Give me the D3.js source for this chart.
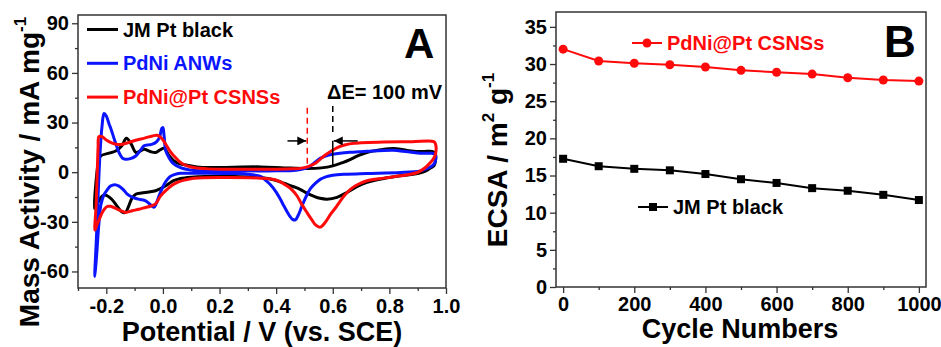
<!DOCTYPE html>
<html>
<head>
<meta charset="utf-8">
<script src="https://cdn.jsdelivr.net/npm/d3@7"></script>
<style>
  body { margin: 0; background: #fff; }
  svg { display: block; font-family: "Liberation Sans", Arial, sans-serif; font-weight: bold; }
</style>
</head>
<body>
<div id="chart"></div>
<script>
// ---- data: panel A, cyclic voltammograms [potential (V), mass activity (mA/mg)]
const jmPtCV = [
  [-0.242, -22], [-0.236, -5], [-0.228, 6], [-0.22, 9.8], [-0.19, 11.5], [-0.167, 12.8], [-0.145, 16],
  [-0.129, 20.5], [-0.112, 17], [-0.096, 12], [-0.08, 12.8], [-0.067, 13.9], [-0.045, 12.5], [-0.026, 11.9],
  [-0.01, 13.5], [0.004, 14.5], [0.02, 10.5], [0.039, 6.8], [0.06, 5], [0.086, 4.2], [0.12, 3.2], [0.168, 2.8],
  [0.25, 3.0], [0.345, 3.2], [0.43, 2.6], [0.51, 2.2], [0.56, 2.6], [0.6, 3.8], [0.635, 5.8], [0.663, 7.8],
  [0.69, 10], [0.72, 11.9], [0.77, 13.5], [0.815, 14.3], [0.85, 13.5], [0.886, 12.6], [0.92, 12.5], [0.951, 12.6],
  [0.962, 11.5], [0.963, 7], [0.958, 4],
  [0.945, 2.5], [0.925, 0.5], [0.91, -0.4], [0.87, -1.6], [0.839, -2.2], [0.78, -3.8], [0.721, -6.2],
  [0.685, -8.8], [0.651, -12.2], [0.615, -15.2], [0.58, -16.3], [0.555, -15.8], [0.534, -14.6], [0.51, -12.8],
  [0.486, -10.5], [0.462, -8.8], [0.43, -6.8], [0.404, -5.2], [0.37, -3.8], [0.345, -3.2], [0.25, -2.6],
  [0.15, -2.6], [0.1, -3], [0.062, -3.8], [0.04, -5], [0.027, -6.2], [0.01, -8.2], [-0.01, -10], [-0.026, -11.2],
  [-0.05, -12], [-0.075, -12.6], [-0.096, -13.3], [-0.11, -16], [-0.122, -21], [-0.132, -24.3], [-0.145, -24],
  [-0.16, -21], [-0.18, -16.5], [-0.202, -13.9], [-0.215, -14.5], [-0.226, -17.3], [-0.236, -20]
];
const pdniAnwCV = [
  [-0.241, -63], [-0.235, -40], [-0.228, -10], [-0.222, 12], [-0.215, 28], [-0.208, 35.5], [-0.2, 34],
  [-0.19, 29], [-0.185, 26.9], [-0.17, 19], [-0.155, 11.9], [-0.143, 8.5], [-0.132, 7.8], [-0.115, 8.2],
  [-0.096, 9.8], [-0.08, 13], [-0.067, 15.9], [-0.05, 16.5], [-0.037, 16.9], [-0.022, 18.5], [-0.012, 21],
  [-0.004, 26.5], [0.0, 27], [0.004, 22], [0.01, 13], [0.021, 8.8], [0.035, 5.5], [0.062, 2.8], [0.109, 1.1],
  [0.2, 0.8], [0.3, 0.8], [0.4, 0.8], [0.47, 1.2], [0.5, 2.2], [0.521, 3.8], [0.54, 6.3], [0.557, 8.5],
  [0.58, 10], [0.6, 10.8], [0.66, 12], [0.72, 12.6], [0.815, 13.2], [0.85, 12.6], [0.886, 11.9], [0.92, 11.4],
  [0.951, 11.4], [0.962, 10.5], [0.963, 7], [0.958, 5],
  [0.951, 3.8], [0.93, 2], [0.91, 0.8], [0.84, -0.2], [0.72, -0.8], [0.65, -1.2], [0.6, -1.8], [0.575, -2.8],
  [0.557, -4.2], [0.54, -6.5], [0.521, -10], [0.505, -15], [0.49, -21], [0.478, -26], [0.468, -28.8],
  [0.458, -28.5], [0.448, -26.5], [0.439, -24], [0.427, -20.3], [0.415, -16.4], [0.4, -12], [0.38, -7.6],
  [0.36, -4.5], [0.345, -2.6], [0.3, -1.2], [0.25, -0.8], [0.15, -0.6], [0.08, -0.6], [0.062, -0.7],
  [0.04, -1.5], [0.027, -2.5], [0.015, -4.5], [0.004, -7.4], [-0.014, -14.4], [-0.025, -19.5], [-0.032, -21.2],
  [-0.045, -19.5], [-0.061, -17.3], [-0.08, -16.5], [-0.096, -15.9], [-0.11, -15], [-0.126, -13.3],
  [-0.14, -10.5], [-0.155, -8.4], [-0.17, -7.6], [-0.185, -8.4], [-0.198, -11], [-0.208, -13.6],
  [-0.215, -17], [-0.22, -20.5], [-0.228, -35], [-0.235, -52]
];
const pdniPtCV = [
  [-0.24, -35], [-0.236, -20], [-0.232, 0], [-0.229, 15], [-0.226, 21.5], [-0.215, 21.5], [-0.2, 19.5],
  [-0.179, 17.6], [-0.16, 16.8], [-0.143, 16.9], [-0.12, 18], [-0.096, 19.3], [-0.065, 20.6], [-0.037, 21.9],
  [-0.02, 22.3], [-0.005, 20.5], [0.01, 16.9], [0.027, 12.2], [0.039, 9.8], [0.062, 5.8], [0.085, 3.8],
  [0.109, 2.8], [0.16, 2.0], [0.227, 1.8], [0.3, 1.8], [0.404, 1.8], [0.46, 2.0], [0.486, 2.3], [0.51, 3.2],
  [0.54, 5.6], [0.569, 9.8], [0.595, 12.8], [0.616, 14.9], [0.645, 16.6], [0.675, 17.5], [0.78, 18.3],
  [0.88, 18.4], [0.957, 18.5], [0.963, 17], [0.963, 11], [0.955, 8],
  [0.945, 5.8], [0.925, 2.5], [0.899, -0.2], [0.839, -2.2], [0.78, -3.6], [0.721, -5.2], [0.69, -7.3],
  [0.663, -10.2], [0.645, -13.4], [0.627, -17.3], [0.61, -21.5], [0.592, -25.5], [0.575, -30], [0.556, -33.2],
  [0.54, -32], [0.525, -28.5], [0.509, -24.4], [0.49, -19.3], [0.474, -14.4], [0.455, -10.5], [0.439, -8.4],
  [0.415, -5.8], [0.392, -4.4], [0.345, -3.6], [0.227, -3.2], [0.109, -3.6], [0.075, -4.8], [0.051, -6.2],
  [0.03, -8.2], [0.016, -10.2], [-0.008, -14.3], [-0.026, -19.2], [-0.045, -20.6], [-0.061, -21.3],
  [-0.085, -22.4], [-0.108, -23.3], [-0.132, -24.3], [-0.15, -23.2], [-0.167, -21.9], [-0.185, -20.6],
  [-0.196, -20.7], [-0.205, -22], [-0.214, -24.3], [-0.225, -28.5], [-0.232, -31.3]
];
const cvSeries = ["JM Pt black", "PdNi ANWs", "PdNi@Pt CSNSs"];
const cvColors = ["#000000", "#0a14ff", "#ff0a0a"];

const potentialTicks = [-0.2, 0.0, 0.2, 0.4, 0.6, 0.8, 1.0];
const potentialMinor = [-0.3, -0.1, 0.1, 0.3, 0.5, 0.7, 0.9];
const massTicks = [-60, -30, 0, 30, 60, 90];
const massMinor = [-45, -15, 15, 45, 75];

// onset potentials marked in panel A
const onsetPdniPt = 0.51;
const onsetJmPt = 0.6;

// ---- data: panel B, ECSA vs cycle number
const cycles = [0, 100, 200, 300, 400, 500, 600, 700, 800, 900, 1000];
const ecsaPdniPt = [32.0, 30.4, 30.1, 29.9, 29.6, 29.15, 28.9, 28.65, 28.15, 27.85, 27.7];
const ecsaJmPt = [17.25, 16.25, 15.9, 15.7, 15.2, 14.5, 14.0, 13.3, 12.95, 12.4, 11.7];
const cycleTicks = [0, 200, 400, 600, 800, 1000];
const cycleMinor = [100, 300, 500, 700, 900];
const ecsaTicks = [0, 5, 10, 15, 20, 25, 30, 35];
const ecsaMinor = [2.5, 7.5, 12.5, 17.5, 22.5, 27.5, 32.5];

const width = 941;
const height = 347;

const svg = d3.select("#chart")
  .append("svg")
  .attr("width", width)
  .attr("height", height);

function styleAxis(g) {
  g.select(".domain").remove();
  g.selectAll("line").attr("stroke", "#333").attr("stroke-width", 1.3);
  g.selectAll("text")
    .attr("fill", "#000")
    .style("font-size", "20px")
    .style("font-weight", "bold")
    .style("font-family", "'Liberation Sans', Arial, sans-serif");
}

function frame(x, y) {
  const [x0, x1] = x.range();
  const [y1, y0] = y.range();
  svg.append("rect")
    .attr("x", x0).attr("y", y0)
    .attr("width", x1 - x0).attr("height", y1 - y0)
    .attr("fill", "none")
    .attr("stroke", "#333")
    .attr("stroke-width", 1.5);
}

// ================= Panel A =================
const xA = d3.scaleLinear().domain([-0.3, 1.0]).range([78, 446]);
const yA = d3.scaleLinear().domain([-70, 95]).range([288, 15]);

svg.append("g")
  .attr("transform", `translate(0,${yA.range()[0]})`)
  .call(d3.axisBottom(xA).tickValues(potentialMinor).tickSize(3).tickFormat(""))
  .call(styleAxis);
svg.append("g")
  .attr("transform", `translate(0,${yA.range()[0]})`)
  .call(d3.axisBottom(xA).tickValues(potentialTicks).tickSize(6).tickPadding(5)
    .tickFormat(d => d.toFixed(1)))
  .call(styleAxis);
svg.append("g")
  .attr("transform", `translate(${xA.range()[0]},0)`)
  .call(d3.axisLeft(yA).tickValues(massMinor).tickSize(3).tickFormat(""))
  .call(styleAxis);
svg.append("g")
  .attr("transform", `translate(${xA.range()[0]},0)`)
  .call(d3.axisLeft(yA).tickValues(massTicks).tickSize(6).tickPadding(3)
    .tickFormat(d => String(d)))
  .call(styleAxis);

const cvLine = d3.line()
  .x(d => xA(d[0]))
  .y(d => yA(d[1]))
  .curve(d3.curveCatmullRomClosed.alpha(0.5));

[jmPtCV, pdniAnwCV, pdniPtCV].forEach((data, i) => {
  svg.append("path")
    .datum(data)
    .attr("d", cvLine)
    .attr("fill", "none")
    .attr("stroke", cvColors[i])
    .attr("stroke-width", 3)
    .attr("stroke-linejoin", "round");
});

// onset markers
svg.append("line")
  .attr("x1", xA(onsetPdniPt)).attr("x2", xA(onsetPdniPt))
  .attr("y1", yA(39)).attr("y2", yA(4))
  .attr("stroke", "#ff0a0a").attr("stroke-width", 1.5).attr("stroke-dasharray", "6,4");
svg.append("line")
  .attr("x1", xA(onsetJmPt)).attr("x2", xA(onsetJmPt))
  .attr("y1", yA(40)).attr("y2", yA(24))
  .attr("stroke", "#000").attr("stroke-width", 1.5).attr("stroke-dasharray", "6,4");
svg.append("line")
  .attr("x1", xA(onsetJmPt)).attr("x2", xA(onsetJmPt))
  .attr("y1", yA(19)).attr("y2", yA(4))
  .attr("stroke", "#000").attr("stroke-width", 1.5);

svg.append("defs").append("marker")
  .attr("id", "arrow")
  .attr("viewBox", "0 0 10 10")
  .attr("refX", 10).attr("refY", 5)
  .attr("markerWidth", 9).attr("markerHeight", 9)
  .attr("markerUnits", "userSpaceOnUse")
  .attr("orient", "auto")
  .append("path")
  .attr("d", "M0,0L10,5L0,10z")
  .attr("fill", "#000");

svg.append("line")
  .attr("x1", xA(0.44)).attr("x2", xA(onsetPdniPt) - 1)
  .attr("y1", yA(18.9)).attr("y2", yA(18.9))
  .attr("stroke", "#000").attr("stroke-width", 1.5)
  .attr("marker-end", "url(#arrow)");
svg.append("line")
  .attr("x1", xA(0.688)).attr("x2", xA(onsetJmPt) + 1)
  .attr("y1", yA(18.9)).attr("y2", yA(18.9))
  .attr("stroke", "#000").attr("stroke-width", 1.5)
  .attr("marker-end", "url(#arrow)");

svg.append("text")
  .attr("x", 327).attr("y", 99)
  .style("font-size", "20px")
  .text("\u0394E= 100 mV");

// legend A
const legendA = svg.append("g");
cvSeries.forEach((name, i) => {
  const ly = 29.5 + i * 33.8;
  legendA.append("line")
    .attr("x1", 87).attr("x2", 118)
    .attr("y1", ly).attr("y2", ly)
    .attr("stroke", cvColors[i]).attr("stroke-width", 3);
  legendA.append("text")
    .attr("x", 123).attr("y", ly + 7)
    .attr("fill", cvColors[i])
    .style("font-size", "20px")
    .text(name);
});

svg.append("text")
  .attr("x", 404).attr("y", 58)
  .style("font-size", "42px")
  .text("A");

// axis titles A
svg.append("text")
  .attr("x", 262).attr("y", 341)
  .attr("text-anchor", "middle")
  .style("font-size", "27px")
  .text("Potential / V (vs. SCE)");

const yTitleA = svg.append("text")
  .attr("transform", "rotate(-90)")
  .attr("x", -172).attr("y", 39)
  .attr("text-anchor", "middle")
  .style("font-size", "28px");
yTitleA.append("tspan").text("Mass Activity / mA mg");
yTitleA.append("tspan").attr("dy", -13).style("font-size", "17px").text("-1");

// ================= Panel B =================
const xB = d3.scaleLinear().domain([-20, 1020]).range([556, 926]);
const yB = d3.scaleLinear().domain([0, 37]).range([287, 12]);

svg.append("g")
  .attr("transform", `translate(0,${yB.range()[0]})`)
  .call(d3.axisBottom(xB).tickValues(cycleMinor).tickSize(3).tickFormat(""))
  .call(styleAxis);
svg.append("g")
  .attr("transform", `translate(0,${yB.range()[0]})`)
  .call(d3.axisBottom(xB).tickValues(cycleTicks).tickSize(6).tickPadding(4)
    .tickFormat(d => String(d)))
  .call(styleAxis);
svg.append("g")
  .attr("transform", `translate(${xB.range()[0]},0)`)
  .call(d3.axisLeft(yB).tickValues(ecsaMinor).tickSize(3).tickFormat(""))
  .call(styleAxis);
svg.append("g")
  .attr("transform", `translate(${xB.range()[0]},0)`)
  .call(d3.axisLeft(yB).tickValues(ecsaTicks).tickSize(6).tickPadding(3)
    .tickFormat(d => String(d)))
  .call(styleAxis);

const ecsaLine = d3.line()
  .x((d, i) => xB(cycles[i]))
  .y(d => yB(d));

svg.append("path")
  .datum(ecsaJmPt)
  .attr("d", ecsaLine)
  .attr("fill", "none")
  .attr("stroke", "#000")
  .attr("stroke-width", 2);
svg.append("g")
  .selectAll("rect")
  .data(ecsaJmPt)
  .join("rect")
  .attr("x", (d, i) => xB(cycles[i]) - 4)
  .attr("y", d => yB(d) - 4)
  .attr("width", 8).attr("height", 8)
  .attr("fill", "#000");

svg.append("path")
  .datum(ecsaPdniPt)
  .attr("d", ecsaLine)
  .attr("fill", "none")
  .attr("stroke", "#ff0a0a")
  .attr("stroke-width", 2);
svg.append("g")
  .selectAll("circle")
  .data(ecsaPdniPt)
  .join("circle")
  .attr("cx", (d, i) => xB(cycles[i]))
  .attr("cy", d => yB(d))
  .attr("r", 4.5)
  .attr("fill", "#ff0a0a");

// legend B
svg.append("line")
  .attr("x1", 632).attr("x2", 662).attr("y1", 43).attr("y2", 43)
  .attr("stroke", "#ff0a0a").attr("stroke-width", 2);
svg.append("circle")
  .attr("cx", 647).attr("cy", 43).attr("r", 4.5)
  .attr("fill", "#ff0a0a");
svg.append("text")
  .attr("x", 667).attr("y", 50)
  .attr("fill", "#ff0a0a")
  .style("font-size", "20px")
  .text("PdNi@Pt CSNSs");

svg.append("line")
  .attr("x1", 638).attr("x2", 668).attr("y1", 207).attr("y2", 207)
  .attr("stroke", "#000").attr("stroke-width", 2);
svg.append("rect")
  .attr("x", 649).attr("y", 203).attr("width", 8).attr("height", 8)
  .attr("fill", "#000");
svg.append("text")
  .attr("x", 673).attr("y", 214)
  .style("font-size", "20px")
  .text("JM Pt black");

svg.append("text")
  .attr("x", 884).attr("y", 57)
  .style("font-size", "44px")
  .text("B");

svg.append("text")
  .attr("x", 740).attr("y", 338)
  .attr("text-anchor", "middle")
  .style("font-size", "27px")
  .text("Cycle Numbers");

const yTitleB = svg.append("text")
  .attr("transform", "rotate(-90)")
  .attr("x", -160).attr("y", 507)
  .attr("text-anchor", "middle")
  .style("font-size", "28px");
yTitleB.append("tspan").text("ECSA / m");
yTitleB.append("tspan").attr("dy", -13).style("font-size", "17px").text("2");
yTitleB.append("tspan").attr("dy", 13).text(" g");
yTitleB.append("tspan").attr("dy", -13).style("font-size", "17px").text("-1");

frame(xA, yA);
frame(xB, yB);
</script>
</body>
</html>
